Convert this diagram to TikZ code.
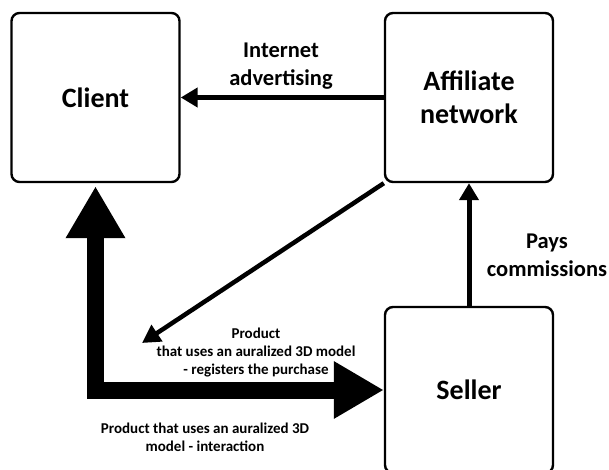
\documentclass[tikz,border=0pt]{standalone}
\usepackage{fontspec}
\setmainfont{Carlito}
\usetikzlibrary{arrows.meta}
\begin{document}
\begin{tikzpicture}[x=1pt,y=-1pt,
  box/.style={draw, line width=2.4pt, rounded corners=8pt, minimum width=168pt,
    minimum height=169pt, inner sep=0pt, align=center,
    font=\fontsize{28}{33}\selectfont\bfseries},
  lbl/.style={align=center, inner sep=0pt, font=\fontsize{22.5}{28}\selectfont\bfseries},
  smalllbl/.style={align=center, inner sep=0pt, font=\fontsize{15}{18}\selectfont\bfseries},
  thinarrow/.style={line width=5pt, -{Triangle[length=17pt,width=19pt]}},
  diagarrow/.style={line width=4.5pt, -{Triangle[length=18pt,width=19pt]}},
  bigarrow/.style={line width=17pt,
    {Triangle[length=52pt,width=56pt]}-{Triangle[length=50pt,width=54pt]}}]
\useasboundingbox (0,0) rectangle (609,470);
\node[box] (client) at (95.5,97.5) {Client};
\node[box] (affiliate) at (469,97.5) {Affiliate\\network};
\node[box, minimum height=166pt] (seller) at (469,390) {Seller};
\draw[thinarrow] (affiliate.west) -- (client.east);
\draw[thinarrow] (seller.north) -- (affiliate.south);
\coordinate (dtip) at (142,343);
\draw[diagarrow] (affiliate.south west) -- (dtip);
\draw[bigarrow] ([yshift=-3pt]client.south) |- (seller.west);
\node[lbl] (lad) at (281,66) {Internet\\advertising};
\node[lbl] (lpay) at (547,255) {Pays\\commissions};
\node[smalllbl] (lreg) at (256,353) {Product\\that uses an auralized 3D model\\- registers the purchase};
\node[smalllbl] (lint) at (205,437) {Product that uses an auralized 3D\\model - interaction};
\end{tikzpicture}
\end{document}
